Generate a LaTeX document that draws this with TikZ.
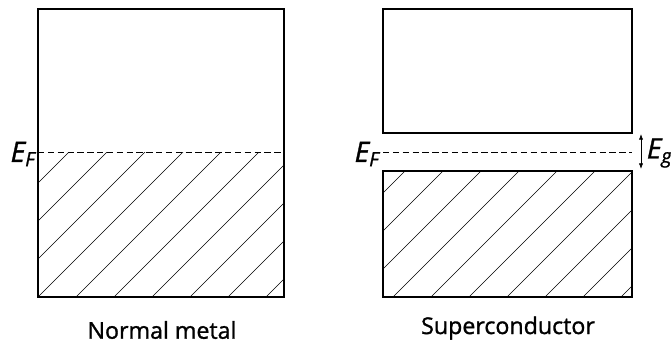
\documentclass[tikz,border=0pt]{standalone}
\usepackage{fontspec}
\setmainfont{Open Sans}
\newfontfamily\lblfont{Open Sans}[BoldFont={Open Sans}, BoldFeatures={FakeBold=1.2}, BoldItalicFont={Open Sans Italic}, BoldItalicFeatures={FakeBold=1.2}]
\usetikzlibrary{arrows.meta,positioning}

\begin{document}
\begin{tikzpicture}[
  x=0.025cm, y=-0.025cm,
  band/.style={draw, line width=0.9pt},
  hatch/.style={line width=0.45pt},
  fermi/.style={dash pattern=on 4.5pt off 2.5pt, line width=0.6pt},
  lbl/.style={font=\fontsize{16.5}{19}\selectfont\lblfont\bfseries},
  elbl/.style={font=\fontsize{20}{22}\selectfont\lblfont\bfseries\itshape, inner sep=1pt},
  gap/.style={{Latex[length=4pt,width=3pt]}-{Latex[length=4pt,width=3pt]}, line width=0.5pt}
]
\useasboundingbox (0,0) rectangle (671,345);

% normal metal
\begin{scope}
  \clip (38,152) rectangle (284,297);
  \foreach \i in {-4,...,6}
    \draw[hatch] (38+\i*38,297) -- ++(160,-160);
\end{scope}
\draw[band] (38,9) rectangle (284,297);
\draw[fermi] (38,152) -- (284,152);
\node[elbl, left] (efn) at (37,154) {E\textsubscript{F}};
\node[lbl] (nm) at (162,330) {Normal metal};

% superconductor
\begin{scope}
  \clip (383,171) rectangle (632,297);
  \foreach \i in {-4,...,6}
    \draw[hatch] (393+\i*38,297) -- ++(140,-140);
\end{scope}
\draw[band] (383,9) rectangle (632,133);
\draw[band] (383,171) rectangle (632,297);
\draw[fermi] (383,152) -- (632,152);
\node[elbl, left] (efs) at (381,154) {E\textsubscript{F}};
\coordinate (gtop) at (641,134);
\coordinate (gbot) at (641,169);
\draw[gap] (gtop) -- (gbot);
\node[elbl, right=3pt of gtop, yshift=-19*0.025cm] (eg) {E\textsubscript{g}};
\node[lbl] (sc) at (508,328) {Superconductor};
\end{tikzpicture}
\end{document}
